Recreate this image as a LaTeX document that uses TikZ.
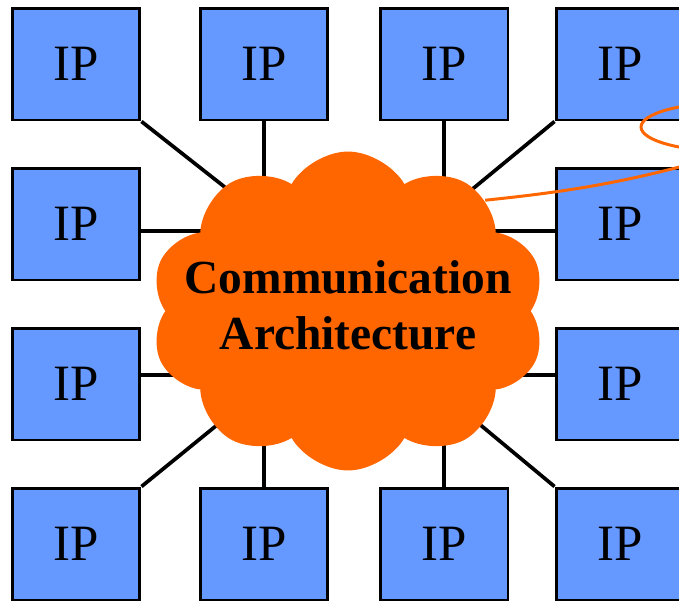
\documentclass[tikz,border=0pt]{standalone}
\usepackage{fontspec}
\setmainfont{Liberation Serif}
\usetikzlibrary{positioning,shapes.symbols,shapes.geometric}
\definecolor{ipblue}{RGB}{102,153,255}
\definecolor{busorange}{RGB}{255,102,0}
\tikzstyle{ip}=[rectangle,draw=black,line width=1.7pt,fill=ipblue,
  minimum width=2.56cm,minimum height=2.24cm,inner sep=0pt,
  font=\fontsize{29}{32}\selectfont]
\tikzstyle{link}=[line width=2.1pt]

\begin{document}
\begin{tikzpicture}[x=0.02cm,y=-0.02cm]
  \useasboundingbox (0,0) rectangle (679,600);
  \clip (0,0) rectangle (679,600);
  % ring of IP blocks
  \foreach \n/\x/\y in {11/76/64,12/264/64,13/444/64,14/620/64,
                        21/76/224,24/620/224,31/76/384,34/620/384,
                        41/76/544,42/264/544,43/444/544,44/620/544}
    \node[ip](ip\n) at (\x,\y) {IP};
  %
  \draw[link] (ip11.south east) -- +(160,126);
  \draw[link] (ip12.south) -- +(0,80);
  \draw[link] (ip13.south) -- +(0,80);
  \draw[link] (ip14.south west) -- +(-136,112);
  \draw[link] ([yshift=-.14cm]ip21.east) -- +(80,0);
  \draw[link] ([yshift=-.14cm]ip24.west) -- +(-80,0);
  \draw[link] ([yshift=.18cm]ip31.east) -- +(80,0);
  \draw[link] ([yshift=.18cm]ip34.west) -- +(-80,0);
  \draw[link] (ip41.north east) -- +(140,-114);
  \draw[link] (ip42.north) -- +(0,-80);
  \draw[link] (ip43.north) -- +(0,-80);
  \draw[link] (ip44.north west) -- +(-136,-113);
  % the bus
  \node[cloud,cloud puffs=10,cloud puff arc=120,cloud ignores aspect,
        fill=busorange,draw=none,inner sep=0pt,
        minimum width=7.9cm,minimum height=6.38cm] (bus) at (348,311) {};
  \node[align=center,font=\fontsize{27}{32}\selectfont\bfseries]
    (busname) at (348,305) {Communication\\Architecture};
  % zoom-in callout
  \node[ellipse,draw=busorange,line width=1.7pt,minimum width=3.6cm,
        minimum height=0.98cm](detail) at (731,127) {};
  \draw[busorange,line width=1.7pt] (bus.north east) to[bend right=5] (detail.south);
\end{tikzpicture}
\end{document}
